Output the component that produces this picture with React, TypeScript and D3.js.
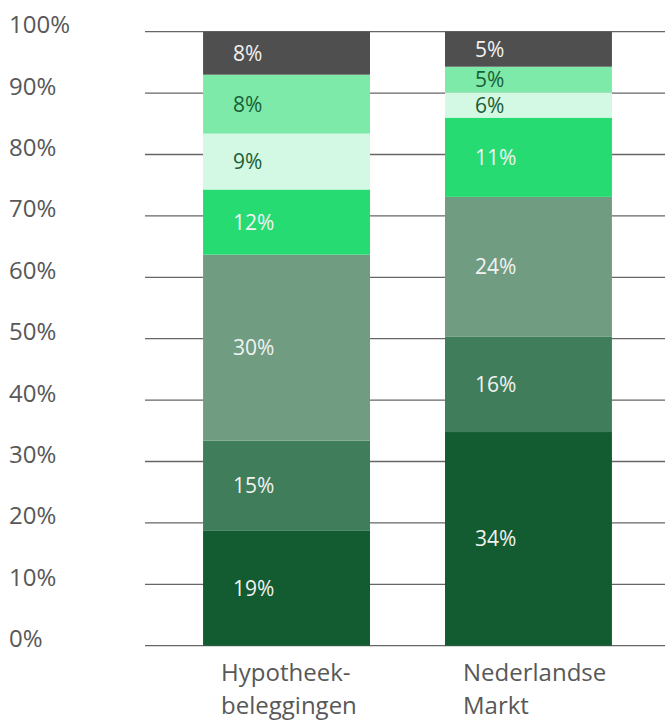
import * as d3 from 'd3';

// categories (two-line labels) and the stacked shares, bottom to top
const categories = ['Hypotheekbeleggingen', 'Nederlandse Markt'];
const categoryLines = [
	['Hypotheek-', 'beleggingen'],
	['Nederlandse', 'Markt'],
];
const segmentKeys = ['s1', 's2', 's3', 's4', 's5', 's6', 's7'];
const hypotheekValues = [18.7, 14.7, 30.3, 10.6, 9.1, 9.6, 7.0];
const marktValues = [34.8, 15.5, 22.8, 12.9, 4.1, 4.2, 5.7];
const hypotheekLabels = ['19%', '15%', '30%', '12%', '9%', '8%', '8%'];
const marktLabels = ['34%', '16%', '24%', '11%', '6%', '5%', '5%'];
const yTicks = [0, 10, 20, 30, 40, 50, 60, 70, 80, 90, 100];

const colors = ['#135b30', '#407d5b', '#709d82', '#26dc72', '#d3f8e3', '#7deaa9', '#4f4f4f'];
const darkText = [false, false, false, false, true, true, false];

const width = 665;
const height = 720;
const font = '"Open Sans", "Noto Sans", sans-serif';

const App = () => {
	const rows = [hypotheekValues, marktValues].map((vals, i) => {
		const row: any = { cat: categories[i] };
		segmentKeys.forEach((k, j) => (row[k] = vals[j]));
		return row;
	});
	const labels = [hypotheekLabels, marktLabels];

	const series = d3.stack().keys(segmentKeys)(rows);

	const x = d3.scaleBand().domain(categories).range([145, 670]).paddingInner(0.31).paddingOuter(0.24);
	const y = d3.scaleLinear().domain([0, 100]).range([645.7, 31.7]);

	return (
		<svg width={width} height={height} style={{ position: 'absolute', left: 0, top: 0 }} fontFamily={font}>
			<g>
				{yTicks.map(t => (
					<g key={t}>
						<line x1={145} x2={665} y1={y(t)} y2={y(t)} stroke="#666" strokeWidth={1.3} />
						<text x={9} y={y(t) + 1.5} fontSize={24} fill="#585858">
							{t}%
						</text>
					</g>
				))}
			</g>
			<g>
				{series.map((s, j) =>
					s.map((d, i) => (
						<rect
							key={`${j}-${i}`}
							x={x(categories[i])}
							width={x.bandwidth()}
							y={y(d[1])}
							height={y(d[0]) - y(d[1])}
							fill={colors[j]}
						/>
					)),
				)}
			</g>
			<g fontSize={21}>
				{series.map((s, j) =>
					s.map((d, i) => (
						<text
							key={`${j}-${i}`}
							x={(x(categories[i]) as number) + 30}
							y={(y(d[0]) + y(d[1])) / 2 + 7.5}
							fill={darkText[j] ? '#1b5e36' : '#f2f2f2'}
						>
							{labels[i][j]}
						</text>
					)),
				)}
			</g>
			<g fontSize={24} fill="#585858">
				{categories.map((c, i) => (
					<text key={c} x={(x(c) as number) + 18} y={681}>
						{categoryLines[i].map((line, k) => (
							<tspan key={k} x={(x(c) as number) + 18} dy={k === 0 ? 0 : 33}>
								{line}
							</tspan>
						))}
					</text>
				))}
			</g>
		</svg>
	);
};

export default App;
